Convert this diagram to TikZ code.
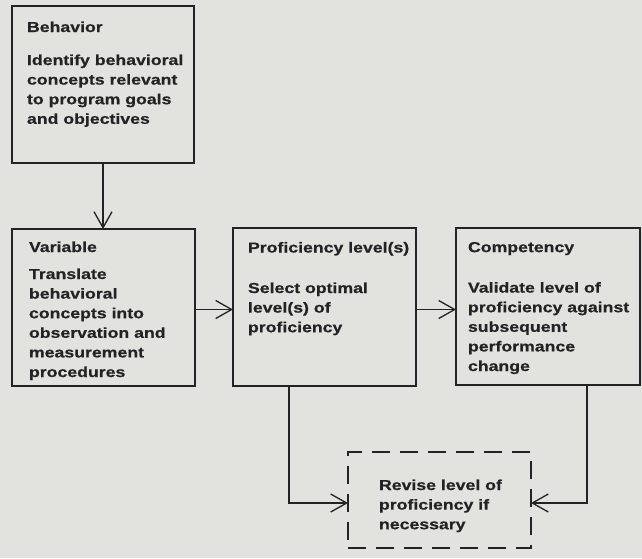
\documentclass[tikz,border=0pt]{standalone}
\usepackage{fontspec}
\newfontfamily\diafont[FakeStretch=1.22, BoldFeatures={FakeBold=0.6}]{Liberation Sans}
\usetikzlibrary{arrows.meta}
\definecolor{bg}{RGB}{226,226,222}
\definecolor{ink}{RGB}{35,35,35}
\begin{document}
\begin{tikzpicture}[x=1pt,y=-1pt,
  box/.style={draw=ink, line width=1.3pt, inner sep=0pt, outer sep=0pt, rectangle},
  dbox/.style={box, dash pattern=on 18pt off 10pt},
  lbl/.style={anchor=north west, inner sep=0pt, outer sep=0pt, align=left, text=ink,
    font=\diafont\bfseries\fontsize{14.5}{19.6}\selectfont},
  arr/.style={draw=ink, line width=1.3pt, -{Straight Barb[length=16pt,width=18pt]}}]
\fill[bg] (0,0) rectangle (642,558);
\useasboundingbox (0,0) rectangle (642,558);
% boxes
\node[box, minimum width=182pt, minimum height=157pt] (beh) at (103,84.5) {};
\node[box, minimum width=183pt, minimum height=157pt] (var) at (103.5,307.5) {};
\node[box, minimum width=183pt, minimum height=158pt] (prof) at (324.5,307) {};
\node[box, minimum width=184pt, minimum height=157pt] (comp) at (548,306.5) {};
\node[dbox, minimum width=183pt, minimum height=96pt] (rev) at (439.5,500) {};
% texts
\node[lbl] (tbeh) at (27,21.5) {Behavior\\[13.4pt]Identify behavioral\\concepts relevant\\to program goals\\and objectives};
\node[lbl] (tvar) at (29,241.5) {Variable\\[7.4pt]Translate\\behavioral\\concepts into\\observation and\\measurement\\procedures};
\node[lbl] (tprof) at (248,242) {Proficiency level(s)\\[20.9pt]Select optimal\\level(s) of\\proficiency};
\node[lbl] (tcomp) at (468,242) {Competency\\[20.9pt]Validate level of\\proficiency against\\subsequent\\performance\\change};
\node[lbl] (trev) at (379,479.5) {Revise level of\\proficiency if\\necessary};
% connectors
\coordinate (ya) at (0,309.5);
\coordinate (pa) at (289,503);
\coordinate (pb) at (587,503);
\draw[arr] (beh.south) -- (beh.south |- var.north);
\draw[arr] (var.east |- ya) -- (prof.west |- ya);
\draw[arr] (prof.east |- ya) -- (comp.west |- ya);
\draw[arr] (prof.south -| pa) |- (rev.west |- pa);
\draw[arr] (comp.south -| pb) |- (rev.east |- pb);
\end{tikzpicture}
\end{document}
